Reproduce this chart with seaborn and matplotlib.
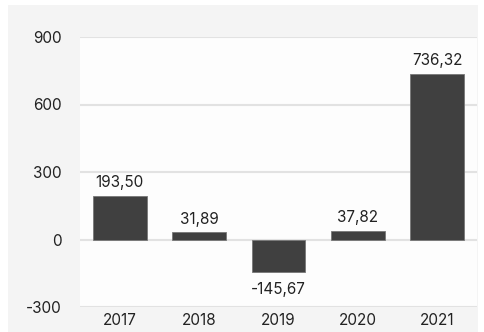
import matplotlib
matplotlib.use("Agg")
import matplotlib.pyplot as plt
from matplotlib.patches import Rectangle
import seaborn as sns
import pandas as pd

years = ["2017", "2018", "2019", "2020", "2021"]
values = [193.50, 31.89, -145.67, 37.82, 736.32]
yticks = [-300, 0, 300, 600, 900]

sns.set_theme(style="white")
plt.rcParams["font.family"] = ["Inter", "DejaVu Sans"]

df = pd.DataFrame({"year": years, "value": values})

fig = plt.figure(figsize=(4.84, 3.32), dpi=100, facecolor="white")
fig.patches.append(Rectangle((8 / 484, 0), 470 / 484, 1 - 5 / 332,
                             transform=fig.transFigure, facecolor="#f4f4f4",
                             edgecolor="none", zorder=-5))
ax = fig.add_axes([80 / 484, 1 - 307 / 332, 397 / 484, 270 / 332])
ax.set_zorder(1)
ax.set_facecolor("#fdfdfd")

sns.barplot(data=df, x="year", y="value", color="#404040", saturation=1,
            width=0.68, edgecolor="#777777", linewidth=0.6, ax=ax, zorder=3)

ax.set_ylim(-300, 900)
ax.set_yticks(yticks)
ax.set_yticklabels([str(t) for t in yticks])
ax.grid(axis="y", color="#e2e2e2", linewidth=1.5, zorder=0)
ax.set_axisbelow(True)
for s in ax.spines.values():
    s.set_visible(False)
ax.tick_params(axis="both", length=0, labelsize=11, colors="#222222")
ax.tick_params(axis="y", pad=13)
ax.tick_params(axis="x", pad=4)
ax.set_xlabel("")
ax.set_ylabel("")

for i, v in enumerate(values):
    lbl = f"{v:.2f}".replace(".", ",")
    if v >= 0:
        ax.annotate(lbl, (i, v), xytext=(0, 4), textcoords="offset points",
                    ha="center", va="bottom", fontsize=11, color="#222222")
    else:
        ax.annotate(lbl, (i, v), xytext=(0, -7), textcoords="offset points",
                    ha="center", va="top", fontsize=11, color="#222222")

fig.savefig("out.png", dpi=100, facecolor="white")
